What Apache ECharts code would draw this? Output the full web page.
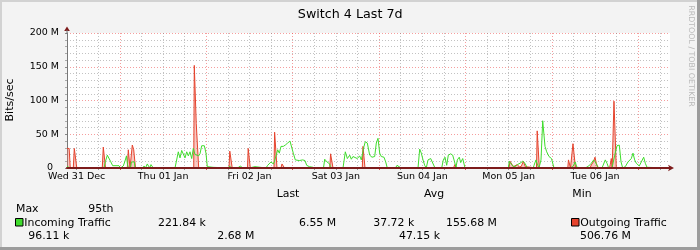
<!DOCTYPE html>
<html><head><meta charset="utf-8">
<script src="https://cdn.jsdelivr.net/npm/echarts@6/dist/echarts.min.js"></script>
<style>html,body{margin:0;padding:0;background:#f3f3f3}#c{width:700px;height:250px}</style>
</head><body><div id="c"></div>
<script>
// x values: hours since Wed 31 Dec 00:00; y values: Mbit/s
const startHour = 9.3, endHour = 176.8;
const dayLabels = ['Wed 31 Dec','Thu 01 Jan','Fri 02 Jan','Sat 03 Jan','Sun 04 Jan','Mon 05 Jan','Tue 06 Jan'];
const dayLabelHours = [12,36,60,84,108,132,156];
const majorGridHours = [24,48,72,96,120,144,168];
const minorGridHours = [12,18,30,36,42,54,60,66,78,84,90,102,108,114,126,132,138,150,156,162,174];
const yTicks = [0,50,100,150,200];

const incoming = [
[9.3,3],[9.7,3],[10.0,0],
[19.58,0],[20.0,10],[20.5,19],[20.88,19],[21.38,10],[21.99,3.4],[23.74,3.4],[24.16,0],
[24.58,0],[24.94,3],[25.33,9],[25.83,18],[26.1,5],[26.38,0],
[26.94,0],[27.2,9],[28.0,9],[28.19,0],
[30.41,0],[30.69,3],[31.1,0],[31.6,6],[32.0,6],[32.27,0],[32.63,5],[33.0,5],[33.27,0],
[39.3,0],[40.22,24],[40.69,15],[41.16,26],[41.61,26],[42.08,15],[42.55,24],[43.0,18],[43.47,24],[43.94,14],[44.38,29],[44.86,20],[45.33,22],[45.88,18],[46.24,21],[46.72,33],[47.44,33],[47.91,22],[48.27,2],[48.55,0],[48.74,1],[49.86,1],[50.13,0],
[54.2,0],[54.5,3],[54.8,0],
[56.66,0],[57.5,3],[58.05,0],
[59.85,0],[60.13,2],[61.52,2],[61.94,0],
[64.58,0],[65.05,4],[65.97,9],[66.61,6],[66.94,10],[67.83,27],[68.28,22],[68.74,32],[69.38,32],[69.94,34],[70.6,37],[71.24,40],[71.72,41],[72.16,22],[72.72,12],[73.83,11],[74.77,12],[75.41,11],[75.88,4],[76.6,2],[77.63,1],[78.19,0],
[80.55,0],[80.88,13],[81.52,9],[82.27,6],[82.49,0],
[85.97,0],[86.61,24],[87.17,14],[87.83,19],[88.28,13],[88.74,17],[89.22,16],[89.94,14],[90.6,18],[91.05,12],[91.38,12],[91.8,32],[92.16,39],[92.72,37],[93.38,19],[94.02,16],[94.77,17],[95.22,37],[95.69,44],[96.16,22],[96.6,17],[97.35,16],[97.83,9],[98.27,0],
[100.55,0],[100.97,4],[101.52,2],[102.08,0],
[106.8,0],[107.27,28],[107.72,22],[108.19,12],[108.66,4],[109.1,0],[109.58,12],[110.33,14],[110.88,13],[111.52,0],
[113.38,0],[113.83,12],[114.3,16],[114.77,4],[115.22,19],[115.88,21],[116.44,19],[116.8,12],[117.36,1],[117.72,12],[118.27,16],[118.66,8],[119.22,14],[119.58,12],[119.86,0],
[121.72,0],[122.16,1.5],[122.63,0],
[124.49,0],[124.94,2],[125.41,0],
[131.89,0],[132.16,10],[132.63,10],[133.1,3],[133.74,2],[134.38,5],[135.13,7],[135.88,10],[136.52,7],[137.16,0],
[138.83,0],[139.03,4],[139.58,12],[140.05,4],[140.41,0],[140.69,2],[140.97,12],[141.44,70],[141.8,70],[142.08,32],[142.55,24],[143.19,17],[143.88,14],[144.58,0],
[148.86,0],[149.08,2],[149.83,2],[150.47,9],[150.94,1],[151.22,0],
[153.27,0],[153.55,2],[154.22,3],[154.94,7],[155.61,12],[156.05,9],[156.52,4],[156.99,0],
[157.91,0],[158.38,2],[158.83,12],[159.3,7],[159.77,0],
[160.69,0],[160.97,2],[161.44,19],[162.08,33],[162.72,34],[163.2,9],[163.66,0],
[164.02,0],[164.38,2],[165.13,9],[165.49,7],[166.05,14],[166.52,22],[166.99,12],[167.44,7],[167.91,8],[168.27,3],[168.83,9],[169.49,16],[169.94,7],[170.41,1],[170.83,0],
[176.8,0]
];

const outgoing = [
[9.3,29],[9.9,29],[10.2,0],
[11.05,0],[11.33,29],[11.72,29],[12.02,0],
[19.1,0],[19.38,31],[19.77,31],[20.0,0],
[26.05,0],[26.33,27],[26.6,27],[26.8,0],
[27.2,0],[27.44,34],[27.63,34],[27.83,27],[28.1,27],[28.33,0],
[44.5,0],[44.66,152],[45.05,152],[45.2,66],[45.69,66],[45.88,0],
[54.3,0],[54.52,25],[54.94,25],[55.19,0],
[59.44,0],[59.63,29],[60.0,29],[60.22,0],
[66.8,0],[66.97,53],[67.41,53],[67.63,0],
[68.74,0],[69.02,6],[69.44,6],[69.72,0],
[82.3,0],[82.52,21],[82.97,21],[83.19,0],
[91.33,0],[91.52,32],[91.88,32],[92.08,0],
[116.66,0],[117.02,5],[117.2,5],[117.44,0],
[132.08,0],[132.36,10],[132.91,10],[133.28,2],[133.83,3.5],[134.38,5],[134.94,1.5],[135.5,2.5],[136.05,10],[136.6,2],[136.94,0],
[139.72,0],[139.91,55],[140.27,55],[140.5,0],
[148.41,0],[148.6,12],[148.97,12],[149.16,0],
[149.66,0],[149.85,36],[150.33,36],[150.55,0],
[154.58,0],[154.94,4.5],[155.61,10],[155.97,16],[156.33,7],[156.8,0],
[159.99,0],[160.21,5],[160.49,14],[160.74,0],
[161.1,0],[161.24,99],[161.71,99],[161.88,0],
[176.8,0]
];

const titleText = 'Switch 4 Last 7d';
const yAxisName = 'Bits/sec';
const watermark = 'RRDTOOL / TOBI OETIKER';
const legendTexts = [
  ['Last',276.7,197.3],['Avg',424,197.3],['Min',572.3,197.3],
  ['Max',16,212.3],['95th',88.3,212.3],
  ['Incoming Traffic',24.3,226.3],['221.84 k',158,226.3],['6.55 M',299,226.3],['37.72 k',373.3,226.3],['155.68 M',446,226.3],['Outgoing Traffic',580.3,226.3],
  ['96.11 k',28.3,240],['2.68 M',217.3,240],['47.15 k',399,240],['506.76 M',580,240]
];
const inColor = '#3fdc2c', outColor = '#e5432d';
const FONT = 'DejaVu Sans';

const chart = echarts.init(document.getElementById('c'), null, {renderer:'canvas'});
const graphic = [];
// frame
graphic.push({type:'rect',shape:{x:0,y:0,width:700,height:2},style:{fill:'#d2d2d2'},silent:true});
graphic.push({type:'rect',shape:{x:0,y:0,width:2,height:250},style:{fill:'#d2d2d2'},silent:true});
graphic.push({type:'rect',shape:{x:0,y:247,width:700,height:3},style:{fill:'#9c9c9c'},silent:true});
graphic.push({type:'rect',shape:{x:697,y:0,width:3,height:250},style:{fill:'#9c9c9c'},silent:true});
graphic.push({type:'text',x:350.2,y:14.3,style:{text:titleText,font:'12.7px "DejaVu Sans"',fill:'#000',align:'center',verticalAlign:'middle'}});
graphic.push({type:'text',x:10.5,y:100,rotation:Math.PI/2,style:{text:yAxisName,font:'11px "DejaVu Sans"',fill:'#000',align:'center',verticalAlign:'middle'}});
graphic.push({type:'text',x:690.7,y:56,rotation:-Math.PI/2,style:{text:watermark,font:'7.9px "DejaVu Sans"',fill:'#b8b8b8',align:'center',verticalAlign:'middle'}});
// y axis arrow
graphic.push({type:'polygon',shape:{points:[[64.2,31],[69.8,31],[67,26.5]]},style:{fill:'#7d1b1b'},z:10});
graphic.push({type:'rect',shape:{x:66.5,y:30,width:1,height:4},style:{fill:'#777'},z:10});
legendTexts.forEach(t=>{
  graphic.push({type:'text',x:t[1],y:t[2]-3.4,style:{text:t[0],font:'10.9px "DejaVu Sans"',fill:'#000',align:'left',verticalAlign:'middle'}});
});
graphic.push({type:'rect',shape:{x:15.5,y:218.5,width:7.5,height:7.5},style:{fill:inColor,stroke:'#000',lineWidth:1}});
graphic.push({type:'rect',shape:{x:571.5,y:218.5,width:7.5,height:7.5},style:{fill:outColor,stroke:'#000',lineWidth:1}});

const minorLine = {show:true,lineStyle:{color:'rgba(120,120,120,0.45)',width:1,type:[1,2]}};
const majorLine = {show:true,lineStyle:{color:'rgba(235,60,60,0.5)',width:1,type:[1,2]}};

chart.setOption({
  animation:false,
  backgroundColor:'#f3f3f3',
  textStyle:{fontFamily:FONT},
  grid:{left:67,right:30,top:33,bottom:82,show:true,backgroundColor:'#ffffff',borderWidth:0},
  graphic:graphic,
  xAxis:[
    {type:'value',position:'bottom',min:startHour,max:endHour,
     axisLine:{show:false},axisLabel:{show:false},
     axisTick:{show:true,customValues:minorGridHours,length:2,lineStyle:{color:'#999'}},
     splitLine:minorLine},
    {type:'value',position:'bottom',min:startHour,max:endHour,
     axisLine:{show:false},axisLabel:{show:false},
     axisTick:{show:true,customValues:majorGridHours,length:2,lineStyle:{color:'#e05050'}},
     splitLine:majorLine},
    {type:'value',position:'bottom',min:startHour,max:endHour,z:5,
     axisLine:{show:true,symbol:['none','arrow'],symbolSize:[5,6],symbolOffset:[0,4],lineStyle:{color:'#7d1b1b',width:2}},
     axisTick:{show:false},
     axisLabel:{show:true,customValues:dayLabelHours,margin:4,fontSize:9.5,color:'#000',fontFamily:FONT,
       formatter:(v)=>dayLabels[dayLabelHours.indexOf(Math.round(v))]||''},
     splitLine:{show:false}}
  ],
  yAxis:{type:'value',min:0,max:200,interval:50,
    axisLine:{show:true,lineStyle:{color:'#777',width:1}},
    axisTick:{show:true,length:2,lineStyle:{color:'#888'}},
    minorTick:{show:true,splitNumber:5,length:2,lineStyle:{color:'#aaa'}},
    axisLabel:{margin:8,fontSize:9.5,color:'#000',fontFamily:FONT,
      formatter:(v)=> v===0 ? '0  ' : v+' M'},
    splitLine:majorLine,
    minorSplitLine:minorLine},
  series:[
    {type:'line',name:'Outgoing Traffic',xAxisIndex:0,data:outgoing,showSymbol:false,smooth:false,
     lineStyle:{color:outColor,width:1},
     areaStyle:{color:'rgba(236,110,95,0.55)',origin:'start'},z:2},
    {type:'line',name:'Incoming Traffic',xAxisIndex:0,data:incoming,showSymbol:false,smooth:false,
     lineStyle:{color:inColor,width:1},z:3}
  ]
});
</script></body></html>
